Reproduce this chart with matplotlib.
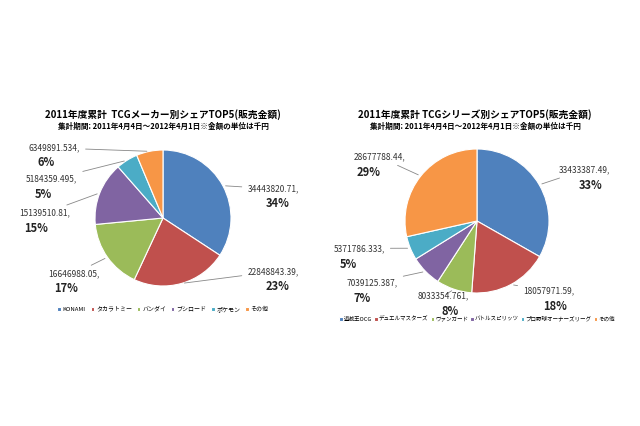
import numpy as np
import matplotlib
matplotlib.use("Agg")
import matplotlib.pyplot as plt

plt.rcParams['font.family'] = ['Noto Sans CJK JP', 'DejaVu Sans']

colors = ['#4F81BD', '#C0504D', '#9BBB59', '#8064A2', '#4BACC6', '#F79646']

# maker chart
maker_names = ['KONAMI', 'タカラトミー', 'バンダイ', 'ブシロード', 'ポケモン', 'その他']
maker_vals = [34443820.71, 22848843.39, 16646988.05, 15139510.81, 5184359.495, 6349891.534]
maker_txt = ['34443820.71,', '22848843.39,', '16646988.05,', '15139510.81,', '5184359.495,', '6349891.534,']
maker_pct = ['34%', '23%', '17%', '15%', '5%', '6%']

# series chart
series_names = ['遊戯王OCG', 'デュエルマスターズ', 'ヴァンガード', 'バトルスピリッツ',
                'プロ野球オーナーズリーグ', 'その他']
series_vals = [33433387.49, 18057971.59, 8033354.761, 7039125.387, 5371786.333, 28677788.44]
series_txt = ['33433387.49,', '18057971.59,', '8033354.761,', '7039125.387,', '5371786.333,', '28677788.44,']
series_pct = ['33%', '18%', '8%', '7%', '5%', '29%']

# label anchor positions (pie radius = 1) and alignment
maker_pos = [(1.24, 0.43, 'left'), (1.24, -0.79, 'left'), (-0.93, -0.82, 'right'),
             (-1.37, 0.07, 'right'), (-1.26, 0.57, 'right'), (-1.22, 1.03, 'right')]
series_pos = [(1.13, 0.71, 'left'), (0.64, -0.97, 'left'), (-0.82, -1.04, 'left'),
              (-1.10, -0.86, 'right'), (-1.28, -0.38, 'right'), (-1.0, 0.89, 'right')]

W, H = 640, 426
fig = plt.figure(figsize=(6.4, 4.26), dpi=100)


def draw(cx, cy, r, vals, txt, pct, pos):
    half = 2.2
    size = 2 * half * r
    ax = fig.add_axes([(cx - size / 2) / W, (H - cy - size / 2) / H, size / W, size / H])
    wedges, _ = ax.pie(vals, colors=colors, startangle=90, counterclock=False,
                       wedgeprops=dict(edgecolor='white', linewidth=0.8))
    ax.set_xlim(-half, half)
    ax.set_ylim(-half, half)
    ax.set_aspect('equal')
    ax.axis('off')
    for w, t, p, (x, y, ha) in zip(wedges, txt, pct, pos):
        ang = np.deg2rad((w.theta1 + w.theta2) / 2)
        px, py = np.cos(ang), np.sin(ang)
        ax.annotate(t, xy=(px, py), xytext=(x, y), ha=ha, va='center', fontsize=6,
                    color='#333333',
                    arrowprops=dict(arrowstyle='-', color='#888888', lw=0.6))
        ax.text(x + (0.45 if ha == 'left' else -0.5), y - 0.22, p, ha='center', va='center',
                fontsize=8, fontweight='bold', color='#222222')
    return wedges


w1 = draw(163, 218, 68, maker_vals, maker_txt, maker_pct, maker_pos)
w2 = draw(477, 221, 72, series_vals, series_txt, series_pct, series_pos)

fig.text(163 / W, 1 - 115 / H, '2011年度累計  TCGメーカー別シェアTOP5(販売金額)',
         ha='center', va='center', fontsize=7, fontweight='bold')
fig.text(163 / W, 1 - 126 / H, '集計期間: 2011年4月4日～2012年4月1日※金額の単位は千円',
         ha='center', va='center', fontsize=5.5, fontweight='bold')
fig.text(475 / W, 1 - 115 / H, '2011年度累計 TCGシリーズ別シェアTOP5(販売金額)',
         ha='center', va='center', fontsize=7, fontweight='bold')
fig.text(475 / W, 1 - 126 / H, '集計期間: 2011年4月4日～2012年4月1日※金額の単位は千円',
         ha='center', va='center', fontsize=5.5, fontweight='bold')

fig.legend(w1, maker_names, loc='center', bbox_to_anchor=(163 / W, 1 - 309 / H), ncol=6,
           frameon=False, fontsize=4.3, handlelength=0.6, handleheight=0.6,
           columnspacing=0.8, handletextpad=0.3)
fig.legend(w2, series_names, loc='center', bbox_to_anchor=(477 / W, 1 - 319 / H), ncol=6,
           frameon=False, fontsize=4.0, handlelength=0.6, handleheight=0.6,
           columnspacing=0.4, handletextpad=0.2)

fig.savefig('out.png', dpi=100)
